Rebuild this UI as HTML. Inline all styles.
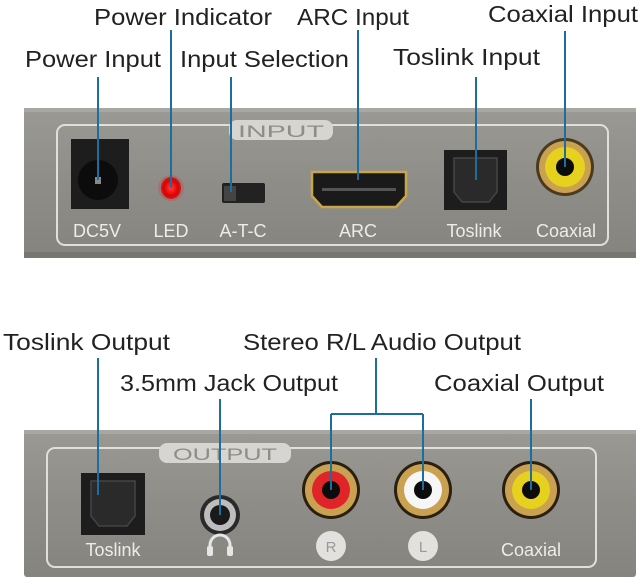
<!DOCTYPE html>
<html><head><meta charset="utf-8"><style>
html,body{margin:0;padding:0;background:#fff;}
svg{display:block;}
.lb{font-family:"Liberation Sans",sans-serif;font-size:23px;fill:#222;}
.pl{font-family:"Liberation Sans",sans-serif;font-size:18px;fill:#ececea;}
</style></head><body>
<svg width="640" height="583" viewBox="0 0 640 583" xmlns="http://www.w3.org/2000/svg">
<defs>
<linearGradient id="pg" x1="0" y1="0" x2="0" y2="1">
<stop offset="0" stop-color="#9a9994"/><stop offset="0.5" stop-color="#8e8d88"/><stop offset="1" stop-color="#85847f"/>
</linearGradient>
<radialGradient id="led" cx="0.5" cy="0.5" r="0.5"><stop offset="0" stop-color="#ff4040"/><stop offset="0.7" stop-color="#e00000"/><stop offset="1" stop-color="#c02020"/></radialGradient>
</defs>
<text class="lb" x="94" y="25" textLength="178" lengthAdjust="spacingAndGlyphs">Power Indicator</text>
<text class="lb" x="297" y="25" textLength="112" lengthAdjust="spacingAndGlyphs">ARC Input</text>
<text class="lb" x="488" y="22" textLength="150" lengthAdjust="spacingAndGlyphs">Coaxial Input</text>
<text class="lb" x="25" y="67" textLength="136" lengthAdjust="spacingAndGlyphs">Power Input</text>
<text class="lb" x="180" y="67" textLength="169" lengthAdjust="spacingAndGlyphs">Input Selection</text>
<text class="lb" x="393" y="65" textLength="147" lengthAdjust="spacingAndGlyphs">Toslink Input</text>
<rect x="24" y="108" width="612" height="150" rx="3" fill="url(#pg)"/>
<rect x="24" y="108" width="612" height="4" fill="#a8a7a2"/>
<rect x="24" y="252" width="612" height="6" fill="#77766f"/>
<rect x="57" y="125" width="551" height="120" rx="8" fill="none" stroke="#e0dfdb" stroke-width="2"/>
<rect x="229" y="120" width="104" height="20" rx="8" fill="#d6d5d1"/>
<text x="281" y="137" text-anchor="middle" font-family="Liberation Sans,sans-serif" font-size="17" fill="#8e8d88" textLength="86" lengthAdjust="spacingAndGlyphs">INPUT</text>
<rect x="71" y="139" width="58" height="70" fill="#1d1d1d"/>
<circle cx="98" cy="180" r="20" fill="#0c0c0c"/><rect x="95" y="177" width="6" height="7" fill="#888"/>
<circle cx="171" cy="188" r="13" fill="#c44" opacity="0.35"/>
<ellipse cx="171" cy="188" rx="10" ry="11" fill="url(#led)"/>
<rect x="222" y="183" width="43" height="20" rx="2" fill="#222"/><rect x="224" y="186" width="12" height="15" fill="#444"/>
<path d="M312 172 h94 v24 l-10 11 h-74 l-10 -11z" fill="#1a1a1a" stroke="#c9a64a" stroke-width="2.5"/>
<rect x="322" y="188" width="74" height="3" fill="#555"/>
<rect x="444" y="150" width="63" height="60" fill="#1d1d1d"/>
<path d="M454 158 h43 v34 l-8 10 h-27 l-8 -10z" fill="#2a2a2a" stroke="#444" stroke-width="1.5"/>
<circle cx="565" cy="167" r="29" fill="#4a3a20"/>
<circle cx="565" cy="167" r="26" fill="#c9a150"/>
<circle cx="565" cy="167" r="20" fill="#e6d21e"/>
<circle cx="565" cy="167" r="9" fill="#0c0c0c"/>
<g class="pl">
<text x="97" y="237" text-anchor="middle">DC5V</text>
<text x="171" y="237" text-anchor="middle">LED</text>
<text x="243" y="237" text-anchor="middle">A-T-C</text>
<text x="358" y="237" text-anchor="middle">ARC</text>
<text x="474" y="237" text-anchor="middle">Toslink</text>
<text x="566" y="237" text-anchor="middle">Coaxial</text>
</g>
<g stroke="#1b6e9e" stroke-width="2" fill="none">
<path d="M98 77 V180"/><path d="M171 30 V188"/><path d="M231 77 V192"/>
<path d="M358 30 V180"/><path d="M476 77 V180"/><path d="M565 31 V167"/>
</g>
<text class="lb" x="3" y="350" textLength="167" lengthAdjust="spacingAndGlyphs">Toslink Output</text>
<text class="lb" x="243" y="350" textLength="278" lengthAdjust="spacingAndGlyphs">Stereo R/L Audio Output</text>
<text class="lb" x="120" y="391" textLength="218" lengthAdjust="spacingAndGlyphs">3.5mm Jack Output</text>
<text class="lb" x="434" y="391" textLength="170" lengthAdjust="spacingAndGlyphs">Coaxial Output</text>
<rect x="24" y="430" width="612" height="147" rx="3" fill="url(#pg)"/>
<rect x="24" y="430" width="612" height="4" fill="#a8a7a2"/>
<rect x="47" y="448" width="549" height="119" rx="8" fill="none" stroke="#e0dfdb" stroke-width="2"/>
<rect x="159" y="443" width="132" height="20" rx="8" fill="#d6d5d1"/>
<text x="225" y="460" text-anchor="middle" font-family="Liberation Sans,sans-serif" font-size="17" fill="#8e8d88" textLength="104" lengthAdjust="spacingAndGlyphs">OUTPUT</text>
<rect x="81" y="473" width="64" height="62" fill="#1d1d1d"/>
<path d="M91 481 h44 v35 l-8 10 h-28 l-8 -10z" fill="#2a2a2a" stroke="#444" stroke-width="1.5"/>
<circle cx="220" cy="515" r="20" fill="#2a2a2a"/>
<circle cx="220" cy="515" r="16" fill="#bdbdbd"/>
<circle cx="220" cy="515" r="10" fill="#1a1a1a"/>
<circle cx="331" cy="490" r="29" fill="#2a2010"/><circle cx="331" cy="490" r="26" fill="#c9a150"/><circle cx="331" cy="490" r="19" fill="#e0252a"/><circle cx="331" cy="490" r="9" fill="#0c0c0c"/>
<circle cx="423" cy="490" r="29" fill="#2a2010"/><circle cx="423" cy="490" r="26" fill="#c9a150"/><circle cx="423" cy="490" r="19" fill="#f6f6f6"/><circle cx="423" cy="490" r="9" fill="#0c0c0c"/>
<circle cx="531" cy="490" r="29" fill="#2a2010"/><circle cx="531" cy="490" r="26" fill="#c9a150"/><circle cx="531" cy="490" r="19" fill="#e6d21e"/><circle cx="531" cy="490" r="9" fill="#0c0c0c"/>
<circle cx="331" cy="546" r="15" fill="#e2e1de"/><circle cx="423" cy="546" r="15" fill="#e2e1de"/>
<text x="331" y="552" text-anchor="middle" font-family="Liberation Sans,sans-serif" font-size="15" fill="#999">R</text>
<text x="423" y="552" text-anchor="middle" font-family="Liberation Sans,sans-serif" font-size="15" fill="#999">L</text>
<path d="M210 553 v-8 a10 10 0 0 1 20 0 v8" fill="none" stroke="#e6e6e4" stroke-width="3"/>
<rect x="207" y="546" width="6" height="10" rx="2" fill="#e6e6e4"/><rect x="227" y="546" width="6" height="10" rx="2" fill="#e6e6e4"/>
<g class="pl">
<text x="113" y="556" text-anchor="middle">Toslink</text>
<text x="531" y="556" text-anchor="middle">Coaxial</text>
</g>
<g stroke="#1b6e9e" stroke-width="2" fill="none">
<path d="M98 358 V495"/><path d="M220 399 V515"/>
<path d="M376 358 V414 M331 414 H423 M331 414 V490 M423 414 V490"/>
<path d="M531 399 V490"/>
</g>
</svg>
</body></html>
